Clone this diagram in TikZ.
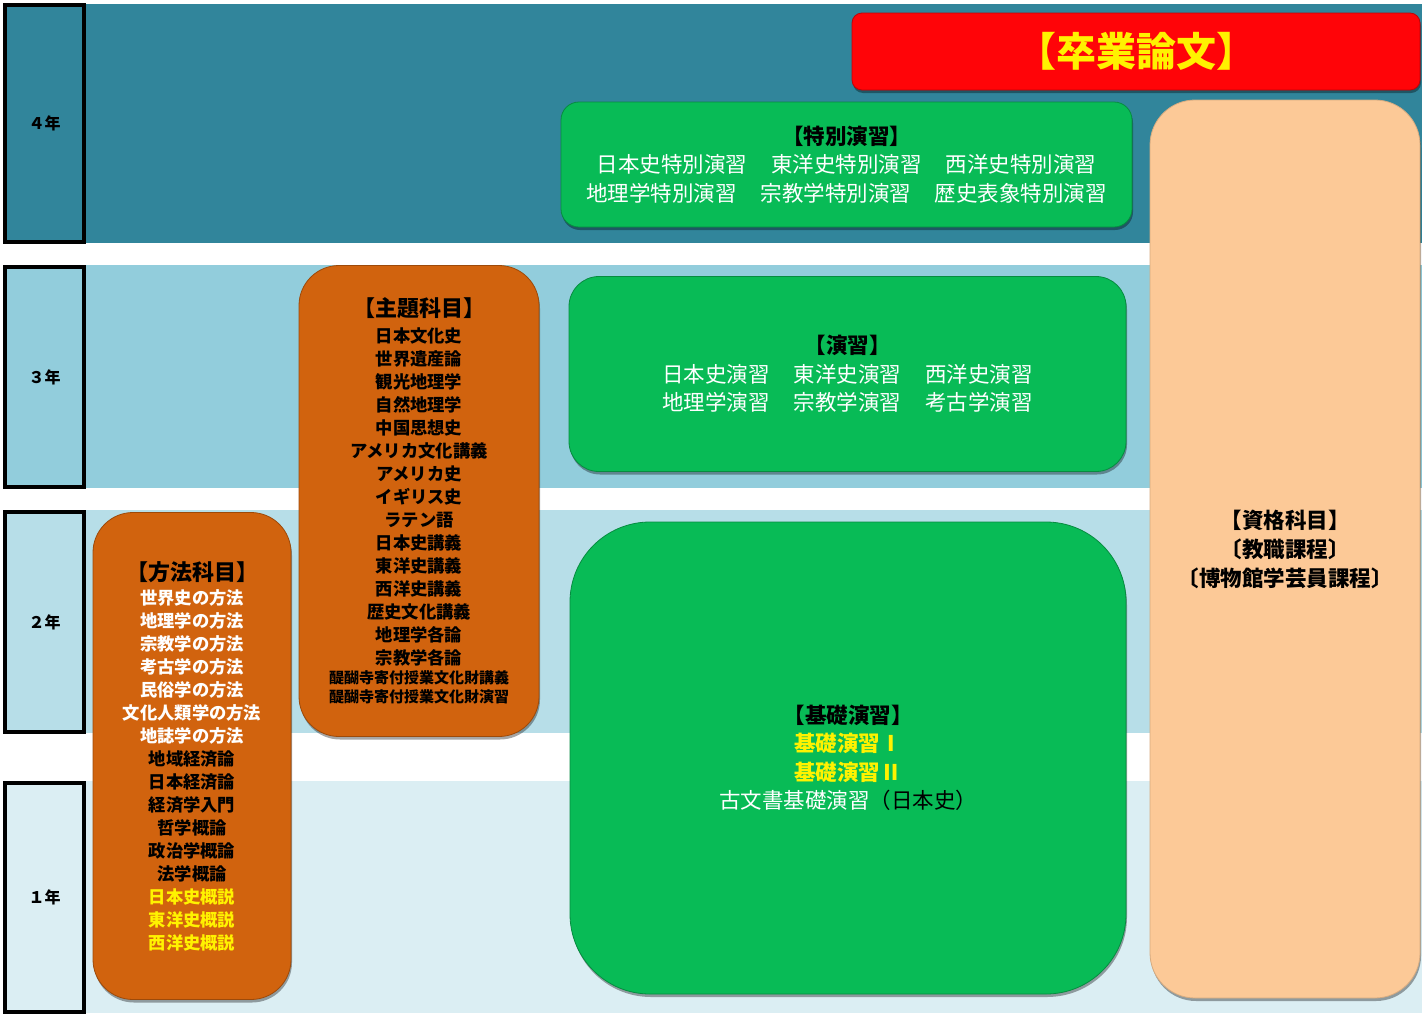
\documentclass[tikz,border=0pt]{standalone}
\usepackage{fontspec}
\newfontfamily\jp{Noto Sans CJK JP}
\usetikzlibrary{shadows}
\definecolor{yearfour}{RGB}{49,133,155}
\definecolor{yearthree}{RGB}{146,205,220}
\definecolor{yeartwo}{RGB}{183,222,232}
\definecolor{yearone}{RGB}{219,238,243}
\definecolor{thesisred}{RGB}{255,4,8}
\definecolor{semgreen}{RGB}{8,187,86}
\definecolor{subjorange}{RGB}{209,99,14}
\definecolor{qualpeach}{RGB}{252,201,151}

\begin{document}
\begin{tikzpicture}[x=1pt, y=-1pt, every node/.style={font=\jp},
  yearlab/.style={draw, line width=4pt, minimum width=79pt, inner sep=0pt, font=\jp\bfseries\fontsize{16}{18}\selectfont},
  box/.style={rounded corners=#1, align=center, inner sep=0pt, line width=.8pt,
    drop shadow={shadow xshift=1pt, shadow yshift=-3pt, opacity=.35, fill=black}},
  box/.default=20pt,
  greenbox/.style={box=#1, fill=semgreen, draw=semgreen!75!black, text=white, font=\jp\fontsize{21.5}{28.5}\selectfont},
  greenbox/.default=20pt,
  orangebox/.style={box=40pt, fill=subjorange, draw=subjorange!75!black, font=\jp\bfseries\fontsize{17.3}{23}\selectfont}]
\useasboundingbox (0,0) rectangle (1422,1015);
\fill[yearfour] (5,4) rectangle (1422,243);
\fill[yearthree] (5,265) rectangle (1422,488);
\fill[yeartwo] (5,510) rectangle (1422,733);
\fill[yearone] (5,781) rectangle (1422,1013);
\node[yearlab, minimum height=237pt] (y4) at (44.5,123.5) {４年};
\node[yearlab, minimum height=220pt] (y3) at (44.5,377) {３年};
\node[yearlab, minimum height=220pt] (y2) at (44.5,622) {２年};
\node[yearlab, minimum height=229pt] (y1) at (44.5,897.5) {１年};

\node[box=10pt, fill=thesisred, draw=thesisred!75!black, minimum width=568pt, minimum height=77pt,
  text=yellow, font=\jp\bfseries\fontsize{40}{44}\selectfont] (thesis) at (1136,51.5) {【卒業論文】};
\node[greenbox=18pt, minimum width=571pt, minimum height=125pt] (special) at (846.5,164.5)
  {{\bfseries\color{black}【特別演習】}\\
   日本史特別演習\hspace{24pt}東洋史特別演習\hspace{24pt}西洋史特別演習\\
   地理学特別演習\hspace{24pt}宗教学特別演習\hspace{24pt}歴史表象特別演習};
\node[greenbox=30pt, minimum width=557pt, minimum height=195pt] (seminar) at (847.5,374)
  {{\bfseries\color{black}【演習】}\\
   日本史演習\hspace{24pt}東洋史演習\hspace{24pt}西洋史演習\\
   地理学演習\hspace{24pt}宗教学演習\hspace{24pt}考古学演習};
\node[greenbox=80pt, minimum width=556pt, minimum height=472pt] (basic) at (848,758)
  {{\bfseries\color{black}【基礎演習】}\\
   {\bfseries\color{yellow}基礎演習Ⅰ}\\
   {\bfseries\color{yellow}基礎演習Ⅱ}\\
   古文書基礎演習{\color{black}（日本史）}};
\node[box=45pt, fill=qualpeach, draw=qualpeach!85!black, minimum width=270pt, minimum height=898pt,
  font=\jp\bfseries\fontsize{21.5}{29}\selectfont] (qual) at (1285,549)
  {【資格科目】\\〔教職課程〕\\〔博物館学芸員課程〕};

\node[orangebox, minimum width=240pt, minimum height=471pt] (theme) at (419,501)
  {{\fontsize{22}{22}\selectfont 【主題科目】}\\[3pt]
   日本文化史\\世界遺産論\\観光地理学\\自然地理学\\中国思想史\\アメリカ文化講義\\アメリカ史\\イギリス史\\
   ラテン語\\日本史講義\\東洋史講義\\西洋史講義\\歴史文化講義\\地理学各論\\宗教学各論\\[-4pt]
   {\fontsize{15}{19}\selectfont 醍醐寺寄付授業文化財講義}\\[-4pt]
   {\fontsize{15}{19}\selectfont 醍醐寺寄付授業文化財演習}};
\node[orangebox, minimum width=198pt, minimum height=487pt] (method) at (192,756)
  {{\fontsize{22}{22}\selectfont 【方法科目】}\\[1pt]
   {\color{white}世界史の方法}\\{\color{white}地理学の方法}\\{\color{white}宗教学の方法}\\
   {\color{white}考古学の方法}\\{\color{white}民俗学の方法}\\{\color{white}文化人類学の方法}\\
   {\color{white}地誌学の方法}\\
   地域経済論\\日本経済論\\経済学入門\\哲学概論\\政治学概論\\法学概論\\
   {\color{yellow}日本史概説}\\{\color{yellow}東洋史概説}\\{\color{yellow}西洋史概説}};
\end{tikzpicture}
\end{document}
